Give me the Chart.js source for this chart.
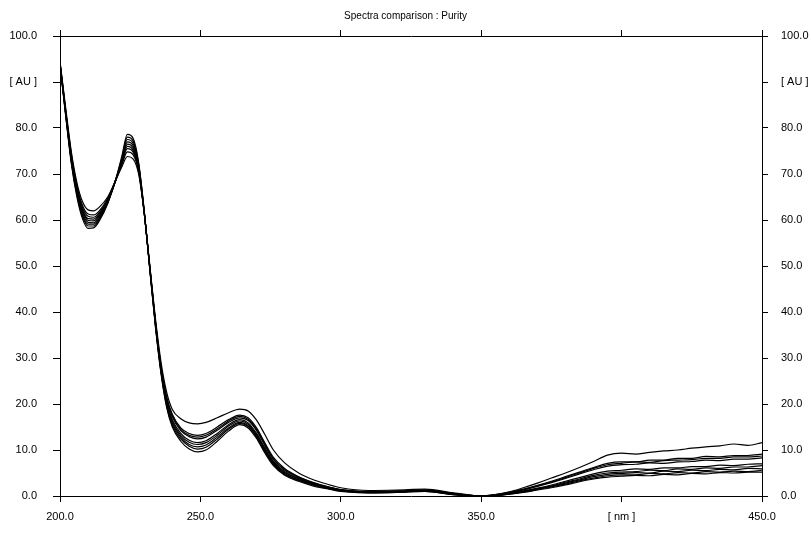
<!DOCTYPE html>
<html><head><meta charset="utf-8">
<script src="https://cdn.jsdelivr.net/npm/chart.js@4.4.1/dist/chart.umd.min.js"></script>
<style>html,body{margin:0;padding:0;background:#fff;}canvas{display:block;}</style>
</head><body>
<canvas id="c" width="811" height="549"></canvas>
<script>
const titleText = "Spectra comparison : Purity";
const xTickValues = [200, 250, 300, 350, 400, 450];
const xTickLabels = ["200.0", "250.0", "300.0", "350.0", "[ nm ]", "450.0"];
const yTickValues = [0, 10, 20, 30, 40, 50, 60, 70, 80, 90, 100];
const yTickLabels = ["0.0", "10.0", "20.0", "30.0", "40.0", "50.0", "60.0", "70.0", "80.0", "[ AU ]", "100.0"];

const wavelengths = [200,202,204,206,208,210,212,214,217,220,222,224,226,228,230,232,234,236,238,240,
  243,246,249,252,256,260,264,267,270,273,276,280,285,290,
  295,300,310,320,330,340,345,350,
  355,360,365,370,375,380,385,390,395,400,405,410,415,420,425,430,435,440,445,450];

const s1 = [94.5,84.5,75,68.2,64,62.2,62,62.8,65,68.8,71.5,73.8,73.3,70,61.5,50,38.5,29,22.5,18.8,
  16.8,15.9,15.7,16.0,17.0,18.1,18.9,18.5,16.5,13.3,10.0,7.2,5.0,3.6,
  2.6,1.8,1.2,1.3,1.5,0.7,0.3,0,
  0.3,0.9,1.8,2.8,3.9,5.0,6.2,7.5,8.9,9.3,9.1,9.5,9.8,10.0,10.4,10.7,10.9,11.3,11.0,11.6];
const s2 = [94.3,84,74.5,67.6,63.2,61.3,61.1,62,64.7,69,72,74.8,74.2,70.5,61.5,49.8,38,28.2,21.5,17.8,
  14.8,13.6,13.2,13.6,15,16.6,17.6,17.0,14.8,11.5,8.4,6.0,4.2,3.0,
  2.1,1.4,1.0,1.1,1.3,0.6,0.2,0,
  0.3,0.8,1.5,2.3,3.2,4.2,5.2,6.2,7.1,7.4,7.4,7.8,7.8,8.2,8.2,8.6,8.5,8.8,8.8,9.1];
const s3 = [94.2,83.8,74.2,67.2,62.7,60.8,60.6,61.6,64.4,69,72.3,75.5,74.8,70.8,61.5,49.7,37.8,28,21.2,17.5,
  14.5,13.2,12.8,13.2,14.6,16.3,17.3,16.7,14.5,11.2,8.1,5.8,4.1,2.9,
  2.0,1.4,0.9,1.0,1.3,0.6,0.2,0,
  0.2,0.7,1.4,2.2,3.0,4.0,5.0,6.0,6.8,7.1,7.4,7.3,7.7,7.8,7.9,8.2,8.2,8.5,8.5,8.7];
const s4 = [94.1,83.6,73.8,66.8,62.3,60.3,60.2,61.3,64.2,68.9,72.4,76,75.2,71,61.5,49.6,37.6,27.8,21,17.2,
  14.2,12.9,12.4,12.8,14.3,16.0,17.0,16.4,14.2,10.9,7.9,5.6,4.0,2.8,
  2.0,1.3,0.9,1.0,1.2,0.5,0.2,0,
  0.2,0.7,1.3,2.1,2.9,3.8,4.8,5.7,6.5,6.8,6.9,7.2,7.1,7.4,7.5,7.8,7.7,8.0,8.0,8.3];
const s5 = [94,83.5,73.5,66.5,62,59.9,59.8,61,64,68.8,72.5,76.5,75.7,71.3,61.6,49.5,37.5,27.5,20.6,16.6,
  13.6,12.1,11.6,12.0,13.6,15.5,16.6,15.9,13.6,10.4,7.5,5.3,3.8,2.7,
  1.9,1.3,0.9,1.0,1.2,0.5,0.2,0,
  0.2,0.6,1.1,1.7,2.4,3.2,4.0,4.8,5.4,5.6,5.9,5.8,6.1,6.1,6.4,6.4,6.7,6.6,6.9,7.0];
const s6 = [94,83.3,73.2,66.2,61.6,59.5,59.4,60.7,63.9,68.9,72.8,77,76.2,71.6,61.7,49.4,37.3,27.2,20.2,16.2,
  13.2,11.7,11.2,11.6,13.2,15.2,16.3,15.6,13.3,10.1,7.3,5.1,3.7,2.6,
  1.8,1.2,0.8,0.9,1.1,0.4,0.1,0,
  0.1,0.5,1.0,1.6,2.2,3.0,3.7,4.5,5.0,5.2,5.3,5.6,5.5,5.9,5.8,6.1,6.0,6.3,6.3,6.6];
const s7 = [93.9,83.1,73,65.9,61.2,59.1,59.1,60.4,63.8,69,73.1,77.5,76.7,71.9,61.8,49.3,37.1,27,19.9,15.8,
  12.8,11.2,10.7,11.1,12.8,14.8,16.0,15.3,13.0,9.8,7.1,4.9,3.5,2.5,
  1.8,1.2,0.8,0.9,1.1,0.4,0.1,0,
  0.1,0.5,0.9,1.5,2.1,2.8,3.5,4.2,4.7,4.9,5.1,5.0,5.4,5.3,5.6,5.5,5.8,5.7,6.0,5.9];
const s8 = [93.8,83,72.7,65.5,60.8,58.7,58.7,60.1,63.7,69.1,73.4,78,77.2,72.2,61.9,49.2,36.9,26.8,19.5,15.4,
  12.4,10.8,10.2,10.6,12.4,14.5,15.8,15.1,12.8,9.6,6.9,4.7,3.4,2.4,
  1.7,1.1,0.7,0.8,1.0,0.3,0.1,0,
  0.1,0.4,0.9,1.4,2.0,2.6,3.3,3.9,4.4,4.6,4.6,4.9,4.8,5.1,5.0,5.3,5.2,5.4,5.3,5.6];
const s9 = [93.7,82.8,72.4,65.1,60.3,58.2,58.3,59.8,63.6,69.2,73.8,78.6,77.8,72.5,62,49.1,36.7,26.5,19.2,15,
  11.9,10.2,9.6,10.0,11.9,14.1,15.5,14.8,12.5,9.3,6.6,4.5,3.2,2.2,
  1.6,1.0,0.7,0.8,1.0,0.3,0.1,0,
  0.1,0.4,0.8,1.3,1.8,2.4,3.1,3.7,4.1,4.3,4.5,4.4,4.7,4.6,4.9,4.8,5.1,5.0,5.2,5.2];

const seriesList = [s1, s2, s3, s4, s5, s6, s7, s8, s9];

const FONT = "'Liberation Sans', Arial, sans-serif";
const xLabel = v => { const i = xTickValues.indexOf(v); return i >= 0 ? xTickLabels[i] : ''; };
const yLabel = v => { const i = yTickValues.indexOf(v); return i >= 0 ? yTickLabels[i] : ''; };

const gridOpt = { drawOnChartArea: false, drawTicks: true, tickLength: 6, color: '#000', lineWidth: 1 };
const borderOpt = { display: true, color: '#000', width: 1 };

const datasets = seriesList.map((s, k) => ({
  label: 'Spectrum ' + (k + 1),
  data: wavelengths.map((w, i) => ({ x: w, y: s[i] })),
  borderColor: '#000',
  borderWidth: 1.2,
  pointRadius: 0,
  fill: false,
  cubicInterpolationMode: 'monotone',
  xAxisID: 'x',
  yAxisID: 'y'
}));

new Chart(document.getElementById('c'), {
  type: 'line',
  data: { datasets },
  options: {
    responsive: false,
    animation: false,
    devicePixelRatio: 1,
    layout: { padding: 0 },
    plugins: {
      legend: { display: false },
      tooltip: { enabled: false },
      title: {
        display: true, text: titleText, color: '#000',
        font: { family: FONT, size: 10, weight: 'normal' },
        padding: { top: 10, bottom: 0 }
      }
    },
    scales: {
      x: {
        type: 'linear', position: 'bottom', min: 200, max: 450,
        afterBuildTicks: s => { s.ticks = xTickValues.map(v => ({ value: v })); },
        ticks: { callback: xLabel, color: '#000', font: { family: FONT, size: 11 }, padding: 8, maxRotation: 0, autoSkip: false },
        grid: gridOpt, border: borderOpt,
        afterFit: s => { s.height = 53; }
      },
      xTop: {
        type: 'linear', position: 'top', min: 200, max: 450,
        afterBuildTicks: s => { s.ticks = xTickValues.map(v => ({ value: v })); },
        ticks: { callback: () => '', autoSkip: false },
        grid: gridOpt, border: borderOpt,
        afterFit: s => { s.height = 14; }
      },
      y: {
        type: 'linear', position: 'left', min: 0, max: 100,
        afterBuildTicks: s => { s.ticks = yTickValues.map(v => ({ value: v })); },
        ticks: { callback: yLabel, color: '#000', font: { family: FONT, size: 11 }, padding: 16, autoSkip: false },
        grid: Object.assign({}, gridOpt, { tickLength: 7 }), border: borderOpt,
        afterFit: s => { s.width = 60; }
      },
      yRight: {
        type: 'linear', position: 'right', min: 0, max: 100,
        afterBuildTicks: s => { s.ticks = yTickValues.map(v => ({ value: v })); },
        ticks: { callback: yLabel, color: '#000', font: { family: FONT, size: 11 }, padding: 13, autoSkip: false },
        grid: gridOpt, border: borderOpt,
        afterFit: s => { s.width = 49; }
      }
    }
  }
});
</script>
</body></html>
